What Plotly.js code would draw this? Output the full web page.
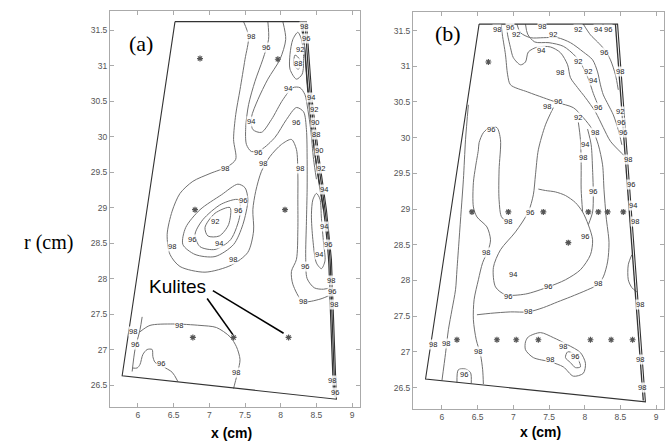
<!DOCTYPE html>
<html><head><meta charset="utf-8">
<script src="https://cdn.plot.ly/plotly-3.0.1.min.js"></script>
<style>html,body{margin:0;padding:0;background:#fff}#chart{width:670px;height:444px}</style>
</head><body><div id="chart"></div>
<script>
// ---------- axis ticks ----------
const xTickVals = [6, 6.5, 7, 7.5, 8, 8.5, 9];
const xTickText = ['6', '6.5', '7', '7.5', '8', '8.5', '9'];
const yTickVals = [26.5, 27, 27.5, 28, 28.5, 29, 29.5, 30, 30.5, 31, 31.5];
const yTickText = ['26.5', '27', '27.5', '28', '28.5', '29', '29.5', '30', '30.5', '31', '31.5'];

// ---------- panel (a) ----------
const aOutline = [[6.52,31.62],[8.36,31.62],[8.44,30.52],[8.53,29.75],[8.64,28.97],[8.71,28.27],[8.73,27.71],[8.78,26.30],[5.78,26.63],[6.52,31.62]];
const aC98 = [[7.48,31.62],[7.55,31.41],[7.50,31.09],[7.43,30.66],[7.37,30.31],[7.34,29.96],[7.37,29.68],[7.26,29.58],[7.01,29.48],[6.77,29.37],[6.59,29.20],[6.48,28.95],[6.41,28.62],[6.45,28.34],[6.59,28.17],[6.94,28.09],[7.31,28.19],[7.54,28.37],[7.62,28.67],[7.61,28.97],[7.65,29.23],[7.73,29.51],[7.85,29.72],[8.01,29.89],[8.15,29.96],[8.22,29.82],[8.24,29.47],[8.24,29.11],[8.24,28.69],[8.22,28.27],[8.15,28.10],[8.17,27.92],[8.31,27.68],[8.55,27.71],[8.72,27.78]];
const aC96 = [[7.82,31.62],[7.83,31.37],[7.75,31.09],[7.64,30.78],[7.55,30.45],[7.51,30.13],[7.52,29.89],[7.59,29.79],[7.73,29.82],[7.92,29.99],[8.08,30.24],[8.22,30.41],[8.32,30.35],[8.36,30.10],[8.37,29.68],[8.37,29.26],[8.36,28.80],[8.35,28.30],[8.37,28.00],[8.47,27.87],[8.60,27.85],[8.72,27.88]];
const aC94 = [[8.03,31.62],[8.07,31.37],[7.99,31.09],[7.82,30.81],[7.68,30.52],[7.59,30.27],[7.61,30.10],[7.73,30.06],[7.87,30.24],[8.03,30.52],[8.17,30.69],[8.27,30.69],[8.34,30.59],[8.38,30.38],[8.42,30.10],[8.46,29.68],[8.50,29.40]];
const aLoop92 = [[8.17,31.37],[8.13,31.16],[8.13,30.95],[8.22,30.81],[8.30,30.88],[8.32,31.13],[8.29,31.37],[8.24,31.47],[8.17,31.37]];
const aLoop88 = [[8.20,31.15],[8.19,31.00],[8.25,30.95],[8.27,31.08],[8.20,31.15]];
const aLoopR = [[8.45,29.11],[8.50,29.20],[8.55,29.12],[8.57,28.85],[8.60,28.50],[8.62,28.25],[8.57,28.14],[8.50,28.22],[8.45,28.55],[8.43,28.90],[8.45,29.11]];
const aB1 = [[8.34,31.62],[8.42,30.52],[8.51,29.75],[8.62,28.97],[8.69,28.27],[8.71,27.71],[8.76,26.33]];
const aB2 = [[8.31,31.62],[8.39,30.52],[8.48,29.75],[8.60,28.97],[8.67,28.27],[8.69,27.71],[8.74,26.36]];
const aB3 = [[8.28,31.62],[8.34,31.20],[8.37,30.80],[8.41,30.40],[8.45,30.00],[8.50,29.60],[8.56,29.20],[8.60,28.97]];
const aWall = [[6.06,27.46],[6.03,27.28],[5.96,27.00],[5.92,26.69]];
const aC98b = [[6.03,27.25],[6.17,27.34],[6.49,27.36],[6.87,27.34],[7.10,27.31],[7.29,27.18],[7.38,27.04],[7.43,26.86],[7.40,26.69],[7.36,26.53],[7.34,26.45]];
const aC96b = [[5.92,26.74],[5.99,26.74],[6.03,26.79],[6.07,26.93],[6.13,27.00],[6.20,27.00],[6.21,26.90],[6.24,26.82],[6.35,26.76],[6.48,26.68],[6.56,26.55]];
const aL96 = [[7.50,29.28],[7.54,29.11],[7.47,28.76],[7.34,28.48],[7.08,28.31],[6.80,28.34],[6.63,28.48],[6.67,28.72],[6.87,28.97],[7.17,29.18],[7.40,29.33],[7.50,29.28]];
const aL94 = [[7.41,29.11],[7.43,28.90],[7.30,28.55],[7.08,28.41],[6.87,28.45],[6.80,28.62],[6.91,28.83],[7.17,29.05],[7.41,29.11]];
const aL92 = [[7.29,29.00],[7.27,28.76],[7.14,28.60],[6.98,28.60],[6.94,28.72],[7.08,28.92],[7.29,29.00]];
const aLabX = [7.58,7.80,8.27,8.24,8.10,7.59,8.22,7.68,7.75,7.22,8.27,7.47,7.40,7.08,6.76,7.13,6.48,7.33,8.60,8.53,8.66,8.34,8.31,6.57,5.93,5.96,6.32,7.38,8.32,8.35,8.43,8.46,8.48,8.50,8.53,8.56,8.61,8.70,8.72,8.75,8.72,8.76];
const aLabY = [31.41,31.26,31.23,31.03,30.68,30.21,30.20,29.78,29.62,29.55,29.55,29.10,28.96,28.81,28.55,28.50,28.45,28.27,28.73,28.34,28.48,28.17,27.68,27.34,27.25,27.07,26.80,26.68,31.55,31.38,30.55,30.38,30.20,30.03,29.80,29.55,29.25,27.97,27.82,27.63,26.56,26.40];
const aLabT = ['98','96','92','88','94','94','96','96','98','98','98','96','96','92','96','94','98','98','94','94','96','96','98','98','98','96','96','98','98','96','94','92','90','88','90','92','94','98','96','98','98','96'];
const aPtX = [6.87,7.96,6.80,8.06,6.77,7.34,8.11];
const aPtY = [31.10,31.09,28.97,28.97,27.17,27.17,27.17];

// ---------- panel (b) ----------
const bOutline = [[6.52,31.59],[8.46,31.59],[8.85,26.30],[5.77,26.62],[6.52,31.59]];
const bEdge2 = [[8.43,31.59],[8.82,26.32]];
const bC98mid = [[6.96,28.82],[6.84,28.88],[6.80,29.13],[6.80,29.55],[6.82,29.97],[6.77,30.14],[6.68,30.15],[6.58,30.07],[6.52,29.93],[6.51,29.83],[6.47,29.59],[6.44,29.37],[6.44,29.03],[6.49,28.89],[6.63,28.75],[6.68,28.57],[6.65,28.43],[6.57,28.25],[6.51,28.01],[6.45,27.73],[6.44,27.45],[6.48,27.17],[6.54,26.96],[6.57,26.75],[6.58,26.55]];
const bLeft = [[6.00,26.60],[6.05,26.98],[6.09,27.31],[6.14,27.59],[6.19,27.87],[6.21,28.15],[6.24,28.57],[6.27,28.99],[6.30,29.41],[6.33,29.97],[6.37,30.46]];
const bC98low = [[6.49,27.52],[6.68,27.54],[6.96,27.56],[7.21,27.56],[7.42,27.62],[7.62,27.70],[7.80,27.77],[8.04,27.87],[8.18,27.94],[8.26,28.05],[8.32,28.26],[8.34,28.53],[8.30,28.89],[8.27,29.27],[8.25,29.62],[8.19,29.90],[8.11,30.11],[7.98,30.28],[7.84,30.42],[7.62,30.49],[7.42,30.56],[7.20,30.64],[6.96,30.74],[6.92,30.88],[6.89,31.16],[6.84,31.48],[6.83,31.59]];
const bC96 = [[7.56,30.42],[7.45,30.18],[7.35,29.83],[7.31,29.48],[7.28,29.20],[7.21,28.96],[7.03,28.68],[6.82,28.43],[6.72,28.18],[6.75,27.91],[6.89,27.80],[7.17,27.81],[7.49,27.91],[7.73,28.01],[7.94,28.15],[8.08,28.36],[8.11,28.57],[8.05,28.78],[7.97,28.96],[7.87,29.09],[7.73,29.19],[7.59,29.24],[7.45,29.26],[7.35,29.28]];
const bPair1 = [[7.91,30.22],[7.94,29.97],[7.95,29.62],[7.95,29.27],[7.97,28.96]];
const bPair2 = [[8.04,30.12],[8.09,29.90],[8.11,29.55],[8.12,29.20],[8.11,28.96],[8.05,28.78]];
const bUp1 = [[6.90,31.59],[6.92,31.44],[6.96,31.26],[7.00,31.12],[7.10,31.02],[7.17,31.06],[7.21,31.20],[7.34,31.27],[7.52,31.27],[7.66,31.19],[7.76,31.02],[7.80,30.84],[7.90,30.70],[8.01,30.56],[8.15,30.36],[8.26,30.14],[8.36,29.95],[8.50,29.80],[8.55,29.75]];
const bUp2 = [[7.05,31.59],[7.10,31.47],[7.24,31.40],[7.42,31.40],[7.62,31.40],[7.80,31.33],[7.98,31.20],[8.11,31.09],[8.18,30.92],[8.22,30.74],[8.26,30.60],[8.33,30.46],[8.40,30.32],[8.47,30.11],[8.52,29.90]];
const bUp3 = [[7.98,31.59],[8.08,31.44],[8.18,31.34],[8.28,31.23],[8.36,31.09],[8.43,30.88],[8.47,30.67]];
const bUp4 = [[7.17,31.59],[7.20,31.45],[7.30,31.34],[7.50,31.33],[7.70,31.28],[7.87,31.14],[7.98,30.98],[8.06,30.80],[8.12,30.62],[8.18,30.47]];
const bArc = [[8.66,28.36],[8.61,28.22],[8.61,28.01],[8.66,27.90],[8.73,27.84]];
const b96small = [[6.21,26.57],[6.23,26.75],[6.33,26.76],[6.40,26.71],[6.41,26.56]];
const bLoop98 = [[7.21,27.21],[7.38,27.27],[7.56,27.20],[7.76,27.10],[7.94,26.99],[8.01,26.84],[7.98,26.70],[7.84,26.66],[7.70,26.79],[7.52,26.86],[7.28,26.92],[7.17,27.03],[7.17,27.14],[7.21,27.21]];
const bLoop96 = [[7.76,27.00],[7.84,26.98],[7.91,26.89],[7.94,26.79],[7.87,26.78],[7.80,26.85],[7.73,26.92],[7.76,27.00]];
const bLabX = [6.77,6.96,7.04,7.40,7.56,7.90,8.19,8.33,7.39,7.91,8.04,8.12,8.27,7.66,7.47,7.63,8.19,7.91,8.15,8.01,7.97,8.11,6.68,6.61,6.93,7.24,7.00,6.92,7.48,7.21,8.19,8.01,6.51,6.31,5.88,6.05,7.69,7.87,7.52,8.50,8.50,8.51,8.53,8.60,8.65,8.68,8.71,8.78,8.78,8.80];
const bLabY = [31.51,31.54,31.44,31.55,31.44,31.51,31.51,31.51,31.22,31.06,30.93,30.80,31.19,30.91,30.43,30.50,30.42,30.28,30.07,29.90,29.72,29.24,30.11,28.39,28.83,28.95,28.09,27.77,27.91,27.56,27.96,28.61,27.00,26.69,27.10,27.12,27.08,26.94,26.90,30.92,30.36,30.21,30.07,29.69,29.34,29.05,28.82,27.66,26.89,26.50];
const bLabT = ['98','96','92','98','92','92','94','96','94','92','92','94','96','98','98','96','96','92','98','94','98','96','96','98','98','96','94','96','96','98','98','96','98','96','98','98','98','96','98','98','92','96','96','98','96','94','98','98','98','98'];
const bPtX = [6.65,6.42,6.93,7.42,8.05,8.19,8.32,8.54,7.77,6.21,6.77,7.04,7.35,8.08,8.37,8.67];
const bPtY = [31.06,28.96,28.96,28.96,28.96,28.96,28.96,28.96,28.53,27.17,27.17,27.17,27.17,27.17,27.17,27.17];

// ---------- build ----------
const traces = [];
function addLine(pts, panel, color, width, smooth) {
  traces.push({
    type: 'scatter', mode: 'lines',
    x: pts.map(p => p[0]), y: pts.map(p => p[1]),
    xaxis: panel === 'a' ? 'x' : 'x2', yaxis: panel === 'a' ? 'y' : 'y2',
    line: smooth ? {color: color, width: width, shape: 'spline', smoothing: 0.8} : {color: color, width: width},
    hoverinfo: 'skip', showlegend: false
  });
}
const cc = '#707070';
[aC98, aC96, aC94, aLoop92, aLoop88, aLoopR, aWall, aC98b, aC96b, aL96, aL94, aL92].forEach(p => addLine(p, 'a', cc, 1, true));
[aB1, aB2, aB3].forEach(p => addLine(p, 'a', '#333', 1.2, true));
addLine(aOutline, 'a', '#333', 1.1, false);
[bC98mid, bLeft, bC98low, bC96, bPair1, bPair2, bUp1, bUp2, bUp3, bUp4, bArc, b96small, bLoop98, bLoop96].forEach(p => addLine(p, 'b', cc, 1, true));
addLine(bOutline, 'b', '#333', 1.1, false);
addLine(bEdge2, 'b', '#333', 1.3, false);

const ptMarker = {symbol: 'asterisk-open', size: 5, color: '#555', line: {color: '#555', width: 1.2}};
traces.push({type: 'scatter', mode: 'markers', x: aPtX, y: aPtY, xaxis: 'x', yaxis: 'y', marker: ptMarker, hoverinfo: 'skip', showlegend: false});
traces.push({type: 'scatter', mode: 'markers', x: bPtX, y: bPtY, xaxis: 'x2', yaxis: 'y2', marker: ptMarker, hoverinfo: 'skip', showlegend: false});

const annotations = [];
function addLabels(xs, ys, ts, panel) {
  for (let i = 0; i < xs.length; i++) {
    annotations.push({x: xs[i], y: ys[i], text: ts[i], xref: panel === 'a' ? 'x' : 'x2', yref: panel === 'a' ? 'y' : 'y2',
      xanchor: 'center', yanchor: 'middle', showarrow: false,
      font: {family: 'Liberation Sans, Arial', size: 7.5, color: '#222'},
      bgcolor: 'rgba(255,255,255,0.85)', borderpad: 0});
  }
}
addLabels(aLabX, aLabY, aLabT, 'a');
addLabels(bLabX, bLabY, bLabT, 'b');

const serif = 'Liberation Serif, Times New Roman, serif';
function paperText(x, y, text, font) {
  annotations.push({xref: 'paper', yref: 'paper', x: x, y: y, text: text, xanchor: 'center', yanchor: 'middle', showarrow: false, font: font});
}
paperText(0.072, 0.453, 'r (cm)', {family: serif, size: 20, color: '#000'});
paperText(0.2104, 0.902, '(a)', {family: serif, size: 22, color: '#000'});
paperText(0.669, 0.924, '(b)', {family: serif, size: 22, color: '#000'});
paperText(0.346, 0.024, '<b>x (cm)</b>', {family: 'Liberation Sans, Arial', size: 14, color: '#000'});
paperText(0.806, 0.027, '<b>x (cm)</b>', {family: 'Liberation Sans, Arial', size: 14, color: '#000'});
annotations.push({xref: 'x', yref: 'y', x: 6.56, y: 27.89, text: 'Kulites', xanchor: 'center', yanchor: 'middle', showarrow: false, font: {family: 'Liberation Sans, Arial', size: 19, color: '#000'}});

const shapes = [
  {type: 'line', xref: 'x', yref: 'y', x0: 6.97, y0: 27.72, x1: 7.33, y1: 27.21, line: {color: '#000', width: 1.6}},
  {type: 'line', xref: 'x', yref: 'y', x0: 7.05, y0: 27.83, x1: 8.04, y1: 27.23, line: {color: '#000', width: 1.6}}
];

function axisX(domain, range, anchor) {
  return {domain: domain, range: range, anchor: anchor, tickvals: xTickVals, ticktext: xTickText,
    showline: true, mirror: 'ticks', linecolor: '#aaa', linewidth: 1, ticks: 'inside', ticklen: 4, tickcolor: '#aaa',
    tickfont: {family: 'Liberation Sans, Arial', size: 8.5, color: '#555'}, showgrid: false, zeroline: false, fixedrange: true};
}
function axisY(domain, range, anchor) {
  return {domain: domain, range: range, anchor: anchor, tickvals: yTickVals, ticktext: yTickText,
    showline: true, mirror: 'ticks', linecolor: '#aaa', linewidth: 1, ticks: 'inside', ticklen: 4, tickcolor: '#aaa',
    tickfont: {family: 'Liberation Sans, Arial', size: 8.5, color: '#555'}, showgrid: false, zeroline: false, fixedrange: true};
}

const layout = {
  width: 670, height: 444, margin: {l: 0, r: 0, t: 0, b: 0},
  paper_bgcolor: '#fff', plot_bgcolor: '#fff', showlegend: false,
  xaxis: axisX([0.1642, 0.5373], [5.61, 9.11], 'y'),
  yaxis: axisY([0.0833, 0.9752], [26.19, 31.77], 'x'),
  xaxis2: axisX([0.6164, 0.9910], [5.594, 9.11], 'y2'),
  yaxis2: axisY([0.0788, 0.9730], [26.20, 31.76], 'x2'),
  annotations: annotations, shapes: shapes
};
Plotly.newPlot('chart', traces, layout, {displayModeBar: false, staticPlot: true});
</script></body></html>
